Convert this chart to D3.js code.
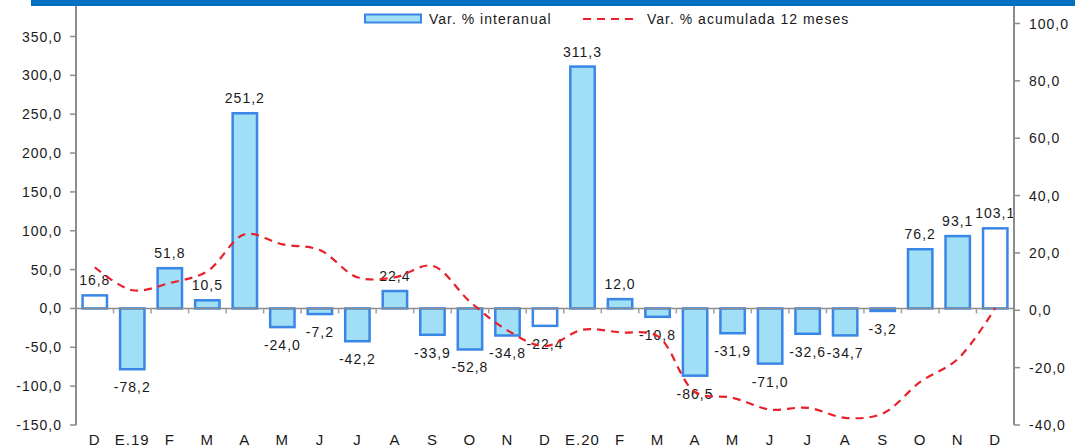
<!DOCTYPE html>
<html>
<head>
<meta charset="utf-8">
<script src="https://cdn.jsdelivr.net/npm/d3@7"></script>
<style>
  body { margin: 0; background: #fff; }
  svg text { font-family: "Liberation Sans", Arial, sans-serif; fill: #1a1a1a; }
</style>
</head>
<body>
<div id="chart"></div>
<script>
// months, Dec 2018 .. Dec 2020
const months = ["D", "E.19", "F", "M", "A", "M", "J", "J", "A", "S", "O", "N",
                "D", "E.20", "F", "M", "A", "M", "J", "J", "A", "S", "O", "N", "D"]
// Var. % interanual (left axis)
const interanual = [16.8, -78.2, 51.8, 10.5, 251.2, -24.0, -7.2, -42.2, 22.4, -33.9, -52.8, -34.8,
                    -22.4, 311.3, 12.0, -10.8, -86.5, -31.9, -71.0, -32.6, -34.7, -3.2, 76.2, 93.1, 103.1]
// Var. % acumulada 12 meses (right axis)
const acumulada = [15.0, 7.0, 9.5, 13.6, 26.5, 23.0, 21.0, 11.5, 11.5, 15.5, 3.0, -7.0,
                   -12.5, -6.8, -7.7, -9.0, -28.5, -30.5, -34.6, -34.0, -37.5, -36.0, -25.0, -17.0, 0.8]
const leftTicks = [-150, -100, -50, 0, 50, 100, 150, 200, 250, 300, 350]
const rightTicks = [-40, -20, 0, 20, 40, 60, 80, 100]
const legendLabels = ["Var. % interanual", "Var. % acumulada 12 meses"]

const width = 1075, height = 448
const plotLeft = 76, plotRight = 1014, plotTop = 6, plotBottom = 425

// spanish style: comma decimals, plain hyphen minus
const locale = d3.formatLocale({decimal: ",", thousands: ".", grouping: [3], currency: ["", ""], minus: "-"})
const fmt = locale.format(".1f")

const svg = d3.select("#chart").append("svg")
    .attr("width", width)
    .attr("height", height)

// blue band on top
svg.append("rect")
    .attr("x", 31).attr("y", 0)
    .attr("width", width - 31).attr("height", 6)
    .style("fill", "#0070c0")

const x = d3.scaleBand()
    .domain(d3.range(months.length))
    .range([plotLeft, plotRight])
    .paddingInner(0.35)
    .paddingOuter(0.175)

const y = d3.scaleLinear().domain([-150, 350]).range([plotBottom, 36.5])
const y2 = d3.scaleLinear().domain([-40, 100]).range([plotBottom, 23.5])

const step = (plotRight - plotLeft) / months.length

// bars
const bars = svg.append("g")
bars.selectAll("rect")
    .data(interanual)
    .enter().append("rect")
    .attr("x", function (d, i) { return x(i) })
    .attr("width", x.bandwidth())
    .attr("y", function (d) { return Math.min(y(d), y(0)) })
    .attr("height", function (d) { return Math.abs(y(d) - y(0)) })
    .style("fill", function (d, i) { return months[i] == "D" ? "#ffffff" : "#a0dff5" })
    .style("stroke", "#3a86e6")
    .style("stroke-width", 2.5)

// zero line and boundary ticks
svg.append("line")
    .attr("x1", plotLeft).attr("x2", plotRight)
    .attr("y1", y(0)).attr("y2", y(0))
    .style("stroke", "#8c8c8c").style("stroke-width", 1.5)

svg.append("g").selectAll("line")
    .data(d3.range(1, months.length))
    .enter().append("line")
    .attr("x1", function (d) { return plotLeft + d * step })
    .attr("x2", function (d) { return plotLeft + d * step })
    .attr("y1", y(0)).attr("y2", y(0) + 5)
    .style("stroke", "#a0a0a0").style("stroke-width", 1.5)

// data labels
svg.append("g").selectAll("text")
    .data(interanual)
    .enter().append("text")
    .attr("x", function (d, i) { return x(i) + x.bandwidth() / 2 })
    .attr("y", function (d) { return d >= 0 ? y(d) - 10 : y(d) + 23 })
    .style("text-anchor", "middle")
    .style("font-size", "14px")
    .style("letter-spacing", "1px")
    .text(function (d) { return fmt(d) })

// accumulated line
const line = d3.line()
    .x(function (d, i) { return x(i) + x.bandwidth() / 2 })
    .y(function (d) { return y2(d) })
    .curve(d3.curveCatmullRom.alpha(0.5))

svg.append("path")
    .datum(acumulada)
    .attr("d", line)
    .style("fill", "none")
    .style("stroke", "#e8202a")
    .style("stroke-width", 2.2)
    .style("stroke-dasharray", "8,6")

// left axis
const axisL = svg.append("g")
axisL.append("line")
    .attr("x1", plotLeft).attr("x2", plotLeft).attr("y1", plotTop).attr("y2", plotBottom)
    .style("stroke", "#8c8c8c").style("stroke-width", 2)
axisL.selectAll(".tk").data(leftTicks).enter().append("line")
    .attr("x1", plotLeft - 6).attr("x2", plotLeft)
    .attr("y1", function (d) { return y(d) }).attr("y2", function (d) { return y(d) })
    .style("stroke", "#8c8c8c").style("stroke-width", 1.5)
axisL.selectAll("text").data(leftTicks).enter().append("text")
    .attr("x", 62)
    .attr("y", function (d) { return y(d) + 5 })
    .style("text-anchor", "end")
    .style("font-size", "14px")
    .style("letter-spacing", "1px")
    .text(function (d) { return fmt(d) })

// right axis
const axisR = svg.append("g")
axisR.append("line")
    .attr("x1", plotRight).attr("x2", plotRight).attr("y1", plotTop).attr("y2", plotBottom)
    .style("stroke", "#8c8c8c").style("stroke-width", 2)
axisR.selectAll(".tk").data(rightTicks).enter().append("line")
    .attr("x1", plotRight).attr("x2", plotRight + 6)
    .attr("y1", function (d) { return y2(d) }).attr("y2", function (d) { return y2(d) })
    .style("stroke", "#8c8c8c").style("stroke-width", 1.5)
axisR.selectAll("text").data(rightTicks).enter().append("text")
    .attr("x", 1029)
    .attr("y", function (d) { return y2(d) + 5 })
    .style("text-anchor", "start")
    .style("font-size", "14px")
    .style("letter-spacing", "1px")
    .text(function (d) { return fmt(d) })

// month labels
svg.append("g").selectAll("text")
    .data(months)
    .enter().append("text")
    .attr("x", function (d, i) { return x(i) + x.bandwidth() / 2 })
    .attr("y", 445)
    .style("text-anchor", "middle")
    .style("font-size", "15px")
    .style("letter-spacing", "1px")
    .text(function (d) { return d })

// legend
const lg = svg.append("g")
lg.append("rect")
    .attr("x", 365).attr("y", 14.5)
    .attr("width", 56).attr("height", 8)
    .style("fill", "#a0dff5").style("stroke", "#3a86e6").style("stroke-width", 2)
lg.append("text")
    .attr("x", 429).attr("y", 24)
    .style("font-size", "14px").style("letter-spacing", "1px")
    .text(legendLabels[0])
lg.append("line")
    .attr("x1", 583).attr("x2", 638).attr("y1", 19).attr("y2", 19)
    .style("stroke", "#e8202a").style("stroke-width", 2.2).style("stroke-dasharray", "8,6")
lg.append("text")
    .attr("x", 647).attr("y", 24)
    .style("font-size", "14px").style("letter-spacing", "1px")
    .text(legendLabels[1])
</script>
</body>
</html>
